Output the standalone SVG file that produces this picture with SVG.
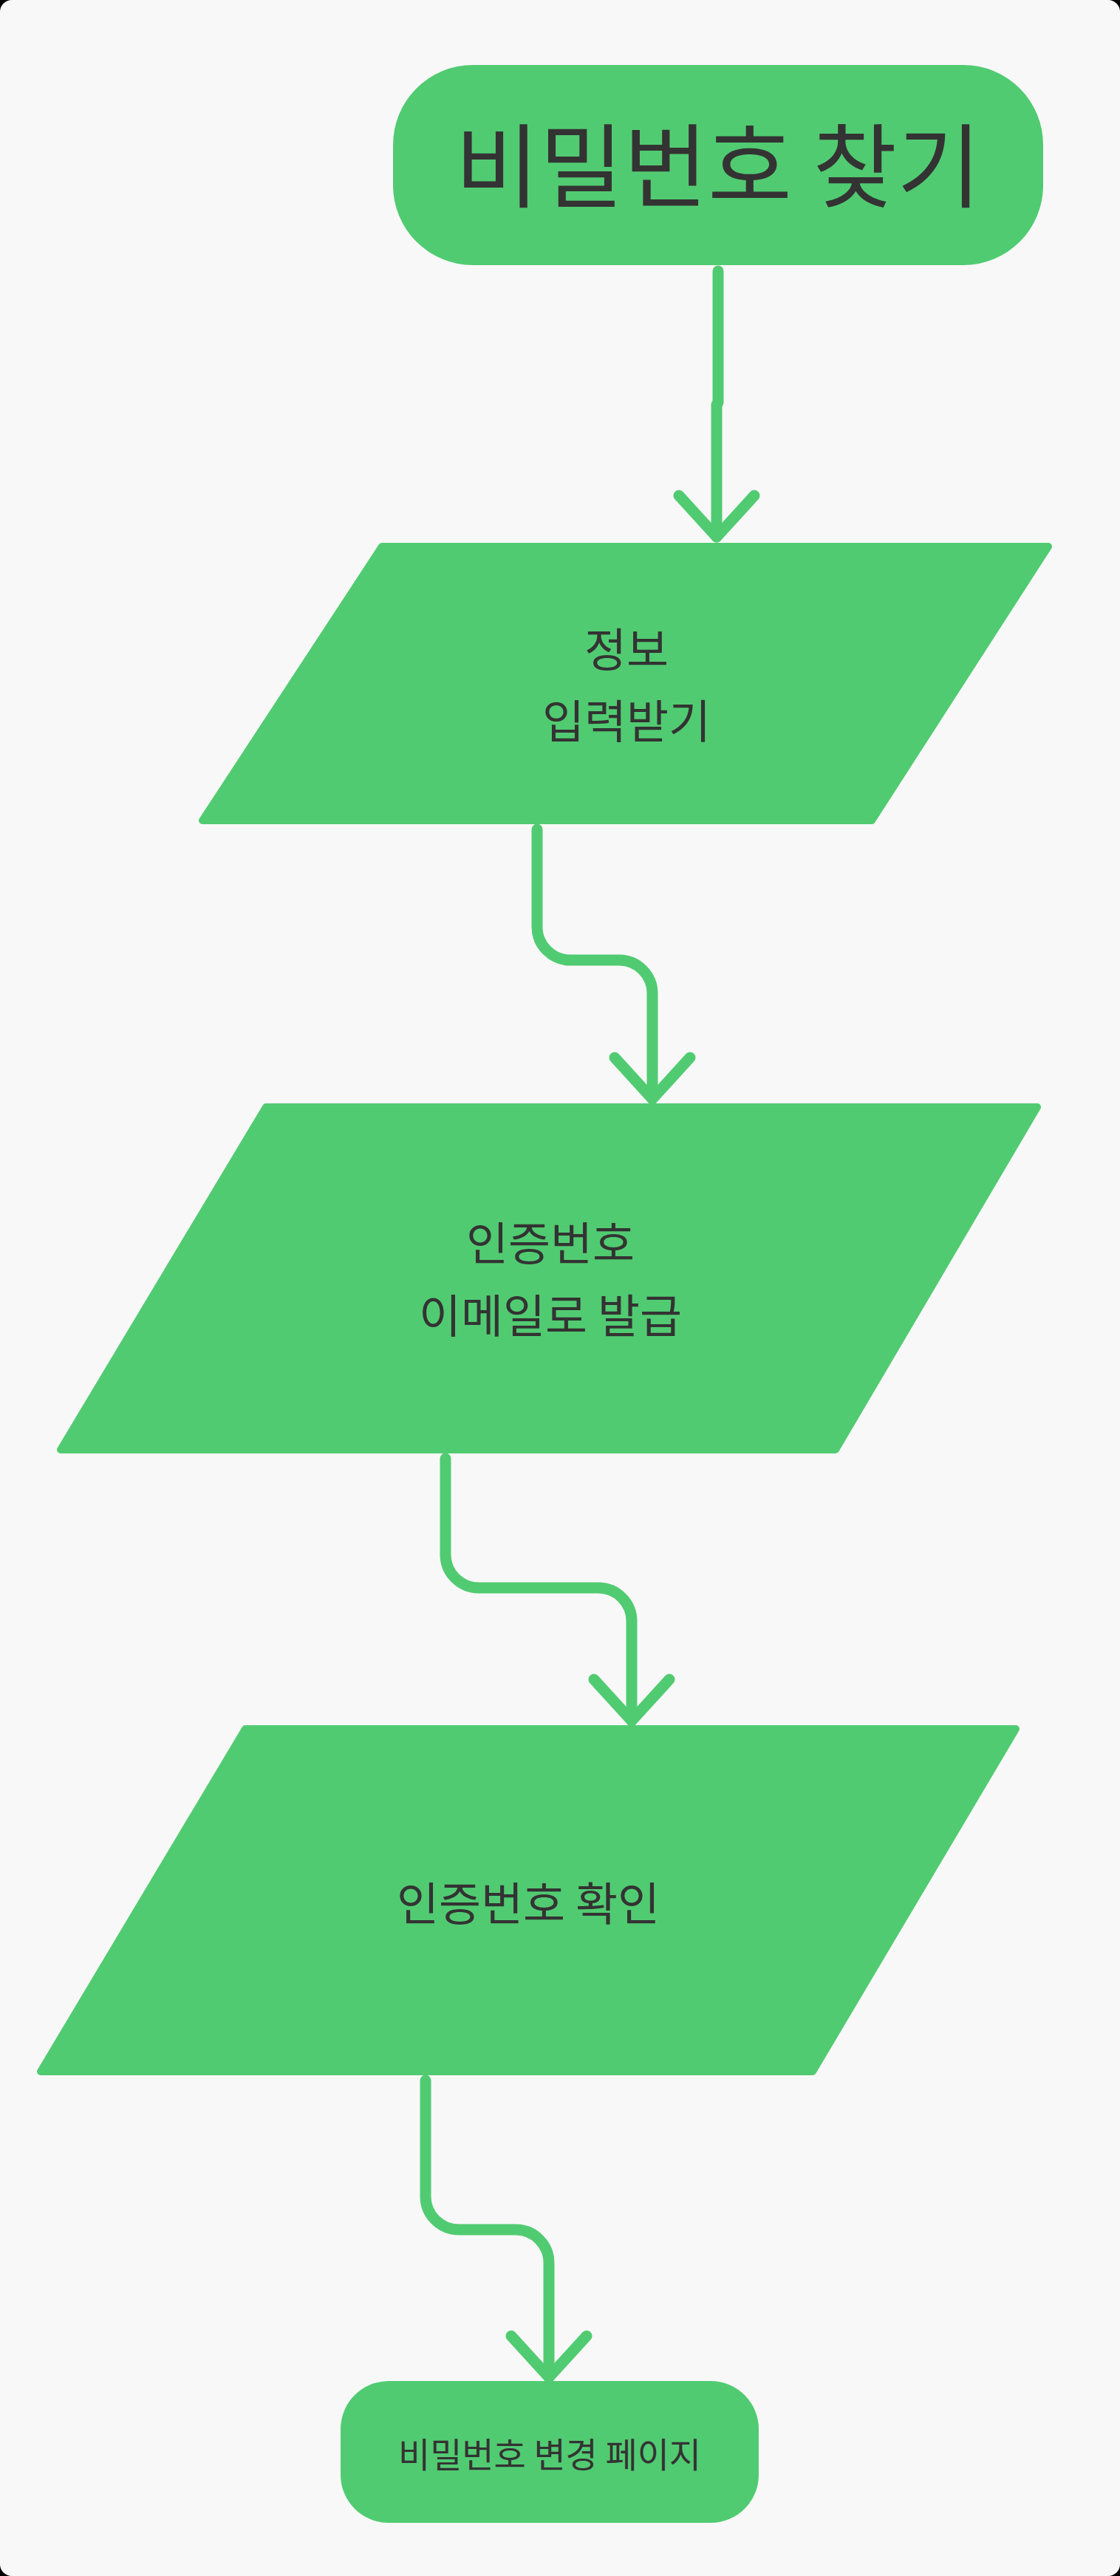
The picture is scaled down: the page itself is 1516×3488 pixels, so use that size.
<svg xmlns="http://www.w3.org/2000/svg" width="1516" height="3488" viewBox="0 0 1516 3488">
  <defs>
    <style>
      .node { fill: #51CB71; stroke: #51CB71; stroke-width: 10; stroke-linejoin: round; }
      .lbl { font-family: "Noto Sans CJK KR", "Noto Sans", sans-serif; fill: #333333; text-anchor: middle; }
      .edge { fill: none; stroke: #51CB71; stroke-width: 15; stroke-linecap: round; stroke-linejoin: round; }
      .head { fill: none; stroke: #51CB71; stroke-width: 15; stroke-linecap: round; stroke-linejoin: round; }
    </style>
    <marker id="arrow" markerUnits="userSpaceOnUse" orient="auto" refX="0" refY="0" markerWidth="200" markerHeight="200" overflow="visible">
      <path class="head" d="M -56 -51 L 0 0 L -56 51"/>
    </marker>
  </defs>
  <rect x="0" y="0" width="1516" height="3488" fill="#000000"/>
  <rect x="0" y="0" width="1516" height="3488" rx="16" fill="#F8F8F8"/>

  <g id="connectors">
    <path class="edge" d="M 972 367 L 972 545 L 970 548 L 970 727" marker-end="url(#arrow)"/>
    <path class="edge" d="M 727 1123 L 727 1255 A 45 45 0 0 0 772 1300 L 838 1300 A 45 45 0 0 1 883 1345 L 883 1488" marker-end="url(#arrow)"/>
    <path class="edge" d="M 603 1975 L 603 2105 A 45 45 0 0 0 648 2150 L 810 2150 A 45 45 0 0 1 855 2195 L 855 2330" marker-end="url(#arrow)"/>
    <path class="edge" d="M 576 2817 L 576 2974 A 45 45 0 0 0 621 3019 L 698 3019 A 45 45 0 0 1 743 3064 L 743 3219" marker-end="url(#arrow)"/>
  </g>

  <g id="node-start">
    <rect x="532" y="88" width="880" height="271" rx="108" ry="108" fill="#51CB71"/>
    <text class="lbl" x="972" y="271" font-size="124">비밀번호 찾기</text>
  </g>

  <g id="node-input">
    <polygon class="node" points="517,740 1419,740 1180,1111 274,1111"/>
    <text class="lbl" x="848" y="903" font-size="62">정보</text>
    <text class="lbl" x="848" y="1000" font-size="62">입력받기</text>
  </g>

  <g id="node-issue">
    <polygon class="node" points="360,1499 1404,1499 1131,1963 82,1963"/>
    <text class="lbl" x="745" y="1707" font-size="62">인증번호</text>
    <text class="lbl" x="745" y="1805" font-size="62">이메일로 발급</text>
  </g>

  <g id="node-verify">
    <polygon class="node" points="332,2341 1375,2341 1100,2805 55,2805"/>
    <text class="lbl" x="715" y="2601" font-size="62">인증번호 확인</text>
  </g>

  <g id="node-end">
    <rect x="461" y="3224" width="566" height="192" rx="65" ry="65" fill="#51CB71"/>
    <text class="lbl" x="744" y="3341" font-size="47">비밀번호 변경 페이지</text>
  </g>
</svg>
